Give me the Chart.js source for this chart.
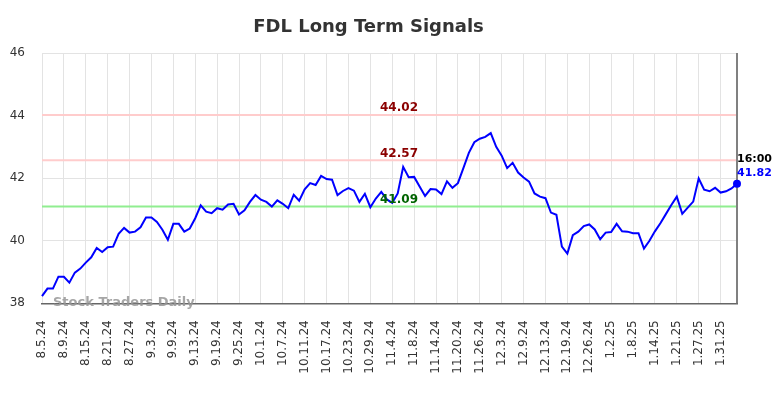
<!DOCTYPE html>
<html lang="en">
<head>
<meta charset="UTF-8">
<title>FDL Long Term Signals</title>
<script src="https://cdn.jsdelivr.net/npm/chart.js@4.4.1/dist/chart.umd.min.js"></script>
<style>
    html, body { margin: 0; padding: 0; background: #fff; }
    #wrap { width: 784px; height: 398px; }
</style>
</head>
<body>
<div id="wrap"><canvas id="fdlChart"></canvas></div>
<script>
    // trading days shown on the x axis
    const dates = [
        "8.5.24", "8.6.24", "8.7.24", "8.8.24", "8.9.24", "8.12.24", "8.13.24", "8.14.24", "8.15.24", "8.16.24",
        "8.19.24", "8.20.24", "8.21.24", "8.22.24", "8.23.24", "8.26.24", "8.27.24", "8.28.24", "8.29.24", "8.30.24",
        "9.3.24", "9.4.24", "9.5.24", "9.6.24", "9.9.24", "9.10.24", "9.11.24", "9.12.24", "9.13.24", "9.16.24",
        "9.17.24", "9.18.24", "9.19.24", "9.20.24", "9.23.24", "9.24.24", "9.25.24", "9.26.24", "9.27.24", "9.30.24",
        "10.1.24", "10.2.24", "10.3.24", "10.4.24", "10.7.24", "10.8.24", "10.9.24", "10.10.24", "10.11.24", "10.14.24",
        "10.15.24", "10.16.24", "10.17.24", "10.18.24", "10.21.24", "10.22.24", "10.23.24", "10.24.24", "10.25.24", "10.28.24",
        "10.29.24", "10.30.24", "10.31.24", "11.1.24", "11.4.24", "11.5.24", "11.6.24", "11.7.24", "11.8.24", "11.11.24",
        "11.12.24", "11.13.24", "11.14.24", "11.15.24", "11.18.24", "11.19.24", "11.20.24", "11.21.24", "11.22.24", "11.25.24",
        "11.26.24", "11.27.24", "11.29.24", "12.2.24", "12.3.24", "12.4.24", "12.5.24", "12.6.24", "12.9.24", "12.10.24",
        "12.11.24", "12.12.24", "12.13.24", "12.16.24", "12.17.24", "12.18.24", "12.19.24", "12.20.24", "12.23.24", "12.24.24",
        "12.26.24", "12.27.24", "12.30.24", "12.31.24", "1.2.25", "1.3.25", "1.6.25", "1.7.25", "1.8.25", "1.9.25",
        "1.10.25", "1.13.25", "1.14.25", "1.15.25", "1.16.25", "1.17.25", "1.21.25", "1.22.25", "1.23.25", "1.24.25",
        "1.27.25", "1.28.25", "1.29.25", "1.30.25", "1.31.25", "2.3.25", "2.4.25", "2.5.25"
    ];

    const prices = [
        38.23, 38.47, 38.47, 38.85, 38.85, 38.66, 38.98, 39.11, 39.30, 39.47,
        39.77, 39.64, 39.79, 39.81, 40.22, 40.41, 40.26, 40.29, 40.43, 40.74,
        40.74, 40.60, 40.35, 40.03, 40.54, 40.54, 40.29, 40.39, 40.72, 41.13,
        40.93, 40.88, 41.04, 40.99, 41.16, 41.18, 40.84, 40.97, 41.24, 41.46,
        41.31, 41.24, 41.09, 41.29, 41.18, 41.04, 41.47, 41.28, 41.64, 41.84,
        41.78, 42.07, 41.97, 41.95, 41.46, 41.59, 41.68, 41.60, 41.24, 41.50,
        41.07, 41.35, 41.56, 41.32, 41.21, 41.51, 42.36, 42.03, 42.04, 41.73,
        41.43, 41.65, 41.64, 41.49, 41.90, 41.69, 41.84, 42.32, 42.81, 43.15,
        43.26, 43.32, 43.44, 43.00, 42.72, 42.32, 42.49, 42.18, 42.02, 41.89,
        41.51, 41.41, 41.36, 40.90, 40.83, 39.81, 39.59, 40.18, 40.29, 40.47,
        40.52, 40.36, 40.05, 40.26, 40.28, 40.54, 40.30, 40.29, 40.24, 40.24,
        39.75, 40.00, 40.30, 40.56, 40.85, 41.14, 41.41, 40.86, 41.06, 41.25,
        41.99, 41.63, 41.58, 41.69, 41.54, 41.58, 41.67, 41.82
    ];

    const signalLevels = [44.02, 42.57, 41.09];
    const signalLineColors = ["#ffcccc", "#ffcccc", "#90ee90"];
    const signalTextColors = ["#8b0000", "#8b0000", "#006400"];
    const lastTime = "16:00";
    const labelEvery = 4;

    const FONT = "DejaVu Sans";

    const signalPlugin = {
        id: "signals",
        beforeDatasetsDraw(chart) {
            const { ctx, chartArea, scales } = chart;
            ctx.save();
            signalLevels.forEach((lvl, i) => {
                const y = scales.y.getPixelForValue(lvl);
                ctx.strokeStyle = signalLineColors[i];
                ctx.lineWidth = 2;
                ctx.beginPath();
                ctx.moveTo(chartArea.left, y);
                ctx.lineTo(chartArea.right, y);
                ctx.stroke();
            });
            // right border
            ctx.strokeStyle = "#808080";
            ctx.lineWidth = 2;
            ctx.beginPath();
            ctx.moveTo(chartArea.right, chartArea.top);
            ctx.lineTo(chartArea.right, chartArea.bottom);
            ctx.stroke();
            ctx.restore();
        },
        afterDatasetsDraw(chart) {
            const { ctx, scales } = chart;
            ctx.save();
            ctx.font = "bold 12px " + FONT;
            ctx.textAlign = "center";
            ctx.textBaseline = "alphabetic";
            signalLevels.forEach((lvl, i) => {
                const y = scales.y.getPixelForValue(lvl);
                ctx.fillStyle = signalTextColors[i];
                ctx.fillText(lvl.toFixed(2), 399, y - 3.5);
            });

            // last value
            const last = prices.length - 1;
            const px = scales.x.getPixelForValue(last);
            const py = scales.y.getPixelForValue(prices[last]);
            ctx.font = "bold 11px " + FONT;
            ctx.textAlign = "left";
            ctx.textBaseline = "middle";
            ctx.fillStyle = "#000";
            ctx.fillText(lastTime, px, py - 24.5);
            ctx.fillStyle = "#0000ff";
            ctx.fillText(prices[last].toFixed(2), px, py - 11);

            // watermark
            ctx.font = "bold 13px " + FONT;
            ctx.fillStyle = "rgba(150,150,150,0.85)";
            ctx.textBaseline = "alphabetic";
            ctx.fillText("Stock Traders Daily", 53, 306);
            ctx.restore();
        }
    };

    let ctx = document.getElementById("fdlChart").getContext("2d");
    let fdlChart = new Chart(ctx, {
        type: "line",
        data: {
            labels: dates,
            datasets: [{
                data: prices,
                borderColor: "#0000ff",
                borderWidth: 2,
                tension: 0,
                pointRadius: (c) => c.dataIndex === prices.length - 1 ? 4 : 0,
                pointBackgroundColor: "#0000ff",
                pointBorderWidth: 0
            }]
        },
        options: {
            responsive: true,
            maintainAspectRatio: false,
            animation: false,
            devicePixelRatio: 1,
            layout: {
                padding: { left: 0, right: 47, top: 0, bottom: 0 }
            },
            plugins: {
                legend: { display: false },
                tooltip: { enabled: false },
                title: {
                    display: true,
                    text: "FDL Long Term Signals",
                    color: "#333",
                    font: { family: FONT, size: 18, weight: "bold" },
                    padding: { top: 17, bottom: 14.4 }
                }
            },
            scales: {
                x: {
                    type: "category",
                    offset: false,
                    grid: {
                        color: (c) => c.index % labelEvery === 0 ? "#e3e3e3" : "transparent",
                        drawTicks: false
                    },
                    border: { color: "#666", width: 1.5 },
                    ticks: {
                        autoSkip: false,
                        maxRotation: 90,
                        minRotation: 90,
                        padding: 17,
                        color: "#333",
                        font: { family: FONT, size: 12 },
                        callback: (v, i) => i % labelEvery === 0 ? dates[i] : ""
                    },
                    afterFit: (s) => { s.height = 94.7; }
                },
                y: {
                    min: 38,
                    max: 46,
                    grid: { color: "#e3e3e3", drawTicks: false },
                    border: { display: false },
                    ticks: {
                        stepSize: 2,
                        padding: 17,
                        color: "#333",
                        font: { family: FONT, size: 12 }
                    },
                    afterFit: (s) => { s.width = 42; }
                }
            }
        },
        plugins: [signalPlugin]
    });
</script>
</body>
</html>
